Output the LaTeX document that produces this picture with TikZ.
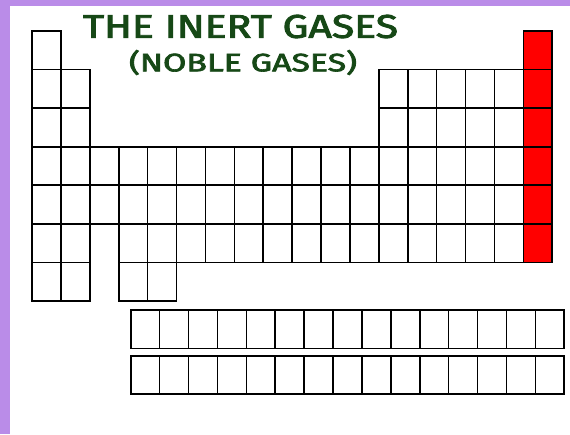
\documentclass[tikz,border=0pt]{standalone}
\usepackage{fontspec}
\newfontfamily\titlefont[FakeBold=2.5]{Fira Sans}
\definecolor{bgpurple}{RGB}{186,140,232}
\definecolor{titlegreen}{RGB}{22,72,22}
\begin{document}
\begin{tikzpicture}[x=1pt,y=-1pt,
  cell/.style={draw=black,line width=1.6pt,minimum width=28.9pt,minimum height=38.57pt,inner sep=0pt,outer sep=0pt,anchor=north west,fill=white},
  noble/.style={cell,fill=red},
  fcell/.style={cell,minimum height=38.3pt},
  titletext/.style={text=titlegreen,inner sep=0pt,font=\titlefont}]
\fill[white] (0,0) rectangle (570,434);
\useasboundingbox (0,0) rectangle (570,434);
\fill[bgpurple] (0,0) rectangle (570,6);
\fill[bgpurple] (0,0) rectangle (10,434);
% main table
\foreach \r/\cl in {1/{1},2/{1,2,13,14,15,16,17},3/{1,2,13,14,15,16,17},4/{1,...,17},5/{1,...,17},6/{1,2,4,5,6,7,8,9,10,11,12,13,14,15,16,17},7/{1,2,4,5}}{
  \foreach \c in \cl {
    \node[cell] (p\r c\c) at ({32+(\c-1)*28.9},{31+(\r-1)*38.57}) {};
  }
}
% noble gases column
\foreach \r in {1,...,6}{
  \node[noble] (p\r c18) at ({32+17*28.9},{31+(\r-1)*38.57}) {};
}
% f-block
\foreach \rr/\yy in {1/310,2/355.7}{
  \foreach \c in {1,...,15}{
    \node[fcell] (f\rr c\c) at ({130.7+(\c-1)*28.9},\yy) {};
  }
}
% title
\node[titletext] (title1) at (240.5,26.5) {\resizebox{315pt}{23pt}{THE INERT GASES}};
\node[titletext] (title2) at (243,62.5) {\resizebox*{228pt}{25pt}{(NOBLE GASES)}};
\end{tikzpicture}
\end{document}
